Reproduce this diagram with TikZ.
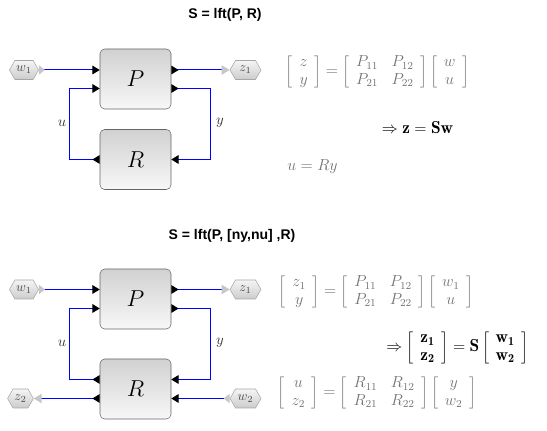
\documentclass[tikz,border=0pt]{standalone}
\usepackage{fontspec}
\newfontfamily\titlefont{Liberation Sans}
\usetikzlibrary{arrows.meta,shapes.symbols,calc}

\tikzset{
  blk/.style={draw=black!60, rounded corners=3.5pt, top color=black!18, bottom color=black!3,
    minimum width=71*0.75pt, minimum height=60*0.75pt, inner sep=0pt, font=\fontsize{18}{20}\selectfont},
  hexport/.style={signal, signal to=east and west, signal pointer angle=120, draw=black!35,
    top color=black!4, bottom color=black!20, inner sep=1pt, minimum height=19*0.75pt, text=black!70},
  link/.style={blue, line width=0.75pt},
  eqn/.style={text=black!55, inner sep=0pt, font=\fontsize{11.5}{13}\selectfont},
  eqs/.style={inner sep=0pt, font=\fontsize{13}{15}\selectfont},
  lbl/.style={text=black!80, inner sep=0pt, font=\fontsize{11}{13}\selectfont},
  ttl/.style={font=\titlefont\bfseries\fontsize{10.5}{12}\selectfont, inner sep=0pt},
  portin/.tip={Triangle[black, length=5.5pt, width=6.5pt]},
  portout/.tip={Triangle[reversed, black, length=5.5pt, width=6.5pt]},
  extin/.tip={Triangle[black!22, length=6pt, width=7pt]},
  extout/.tip={Triangle[reversed, black!22, length=4.5pt, width=7pt]}
}

\begin{document}
\begin{tikzpicture}[x=0.75pt, y=-0.75pt]
\newcommand\pgap{9.5}
\newcommand\loopw{30}
\useasboundingbox (0,0) rectangle (547,431);

% S = lft(P,R)
\node[ttl] (title1) at (225,15) {S = lft(P, R)};

\node[blk] (P1) at (135.5,79) {$P$};
\node[blk] (R1) at (135.5,159.5) {$R$};
\node[hexport, minimum width=28*0.75pt] (w1a) at (24,70) {$w_1$};
\node[hexport, minimum width=31*0.75pt] (z1a) at (245.5,70) {$z_1$};

\draw[link, extout-portin] (w1a.east) -- (P1.west |- w1a.east);
\draw[link, portout-extin] (P1.east |- z1a.west) -- (z1a.west);
\draw[link, portout-portin] (R1.west) -- ++(-\loopw,0) |- ($(P1.west)+(0,\pgap)$);
\draw[link, portout-portin] ($(P1.east)+(0,\pgap)$) -- ++(39,0) |- (R1.east);

\node[lbl] (u1) at (62,123) {$u$};
\node[lbl] (y1) at (220,123) {$y$};

\node[eqn] (eqP1) at (377.5,72) {$\left[\begin{array}{c} z\\ y\end{array}\right]
  = \left[\begin{array}{cc} P_{11} & P_{12}\\ P_{21} & P_{22}\end{array}\right]
  \left[\begin{array}{c} w\\ u\end{array}\right]$};
\node[eqs] (eqS1) at (417.5,128) {$\Rightarrow \mathbf{z} = \mathbf{S}\mathbf{w}$};
\node[eqn] (eqR1) at (312.5,167) {$u = Ry$};

% S = lft(P,[ny,nu],R)
\node[ttl] (title2) at (232,236) {S = lft(P, [ny,nu] ,R)};

\node[blk] (P2) at (135.5,299) {$P$};
\node[blk] (R2) at (135.5,389) {$R$};
\node[hexport, minimum width=28*0.75pt] (w1b) at (24,289.5) {$w_1$};
\node[hexport, minimum width=31*0.75pt] (z1b) at (245.5,289.5) {$z_1$};
\node[hexport, minimum width=21*0.75pt] (z2b) at (20.5,398.5) {$z_2$};
\node[hexport, minimum width=31*0.75pt] (w2b) at (245.5,398.5) {$w_2$};

\draw[link, extout-portin] (w1b.east) -- (P2.west |- w1b.east);
\draw[link, portout-extin] (P2.east |- z1b.west) -- (z1b.west);
\draw[link, portout-portin] ($(R2.west)+(0,-\pgap)$) -- ++(-\loopw,0) |- ($(P2.west)+(0,\pgap)$);
\draw[link, portout-portin] ($(P2.east)+(0,\pgap)$) -- ++(39,0) |- ($(R2.east)+(0,-\pgap)$);
\draw[link, portout-extin] (R2.west |- z2b.east) -- (z2b.east);
\draw[link, extout-portin] (w2b.west) -- (R2.east |- w2b.west);

\node[lbl] (u2) at (62,343) {$u$};
\node[lbl] (y2) at (220,343) {$y$};

\node[eqn] (eqP2) at (376,292) {$\left[\begin{array}{c} z_1\\ y\end{array}\right]
  = \left[\begin{array}{cc} P_{11} & P_{12}\\ P_{21} & P_{22}\end{array}\right]
  \left[\begin{array}{c} w_1\\ u\end{array}\right]$};
\node[eqs] (eqS2) at (457.5,348) {\renewcommand\arraystretch{0.88}%
  $\Rightarrow \left[\begin{array}{c} \mathbf{z_1}\\ \mathbf{z_2}\end{array}\right]
  = \mathbf{S}\left[\begin{array}{c} \mathbf{w_1}\\ \mathbf{w_2}\end{array}\right]$};
\node[eqn] (eqR2) at (377,393) {$\left[\begin{array}{c} u\\ z_2\end{array}\right]
  = \left[\begin{array}{cc} R_{11} & R_{12}\\ R_{21} & R_{22}\end{array}\right]
  \left[\begin{array}{c} y\\ w_2\end{array}\right]$};

\end{tikzpicture}
\end{document}
